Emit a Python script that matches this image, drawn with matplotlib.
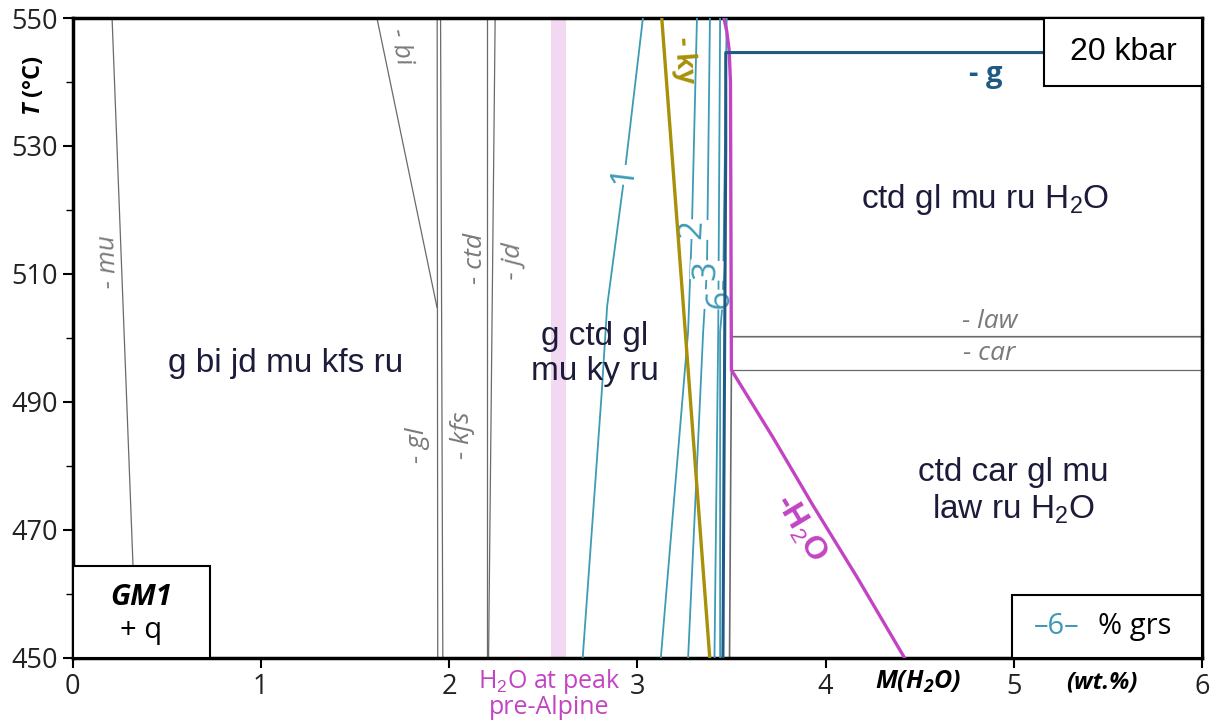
import matplotlib
matplotlib.use("Agg")
import matplotlib.pyplot as plt
from matplotlib.patches import Rectangle

plt.rcParams['font.family'] = ['Open Sans', 'DejaVu Sans']
plt.rcParams['mathtext.fontset'] = 'custom'
plt.rcParams['mathtext.rm'] = 'Liberation Sans'
plt.rcParams['mathtext.it'] = 'Liberation Sans:italic'
plt.rcParams['mathtext.bf'] = 'Open Sans:bold'
plt.rcParams['mathtext.bfit'] = 'Open Sans:italic:bold'

# --- phase boundaries (M(H2O) wt.%, T degC) ---
mu_x = [0.21, 0.34]
mu_t = [550, 450]
bi_x = [1.617, 1.936]
bi_t = [550, 504.8]
gl_x = [1.937, 1.94]
gl_t = [550, 450]
gl2_x = [1.955, 1.967]
gl2_t = [550, 450]
ctd_x = [2.20, 2.20]
ctd_t = [550, 450]
jd_x = [2.245, 2.21]
jd_t = [550, 450]
ky_x = [3.13, 3.385]
ky_t = [550, 450]

# garnet grossular isopleths (% grs)
grs1_x = [3.03, 2.93, 2.84, 2.81, 2.71]
grs1_t = [550, 525, 505, 491, 450]
grs2_x = [3.317, 3.29, 3.27, 3.125]
grs2_t = [550, 517, 501, 450]
grs3_x = [3.386, 3.37, 3.35, 3.27]
grs3_t = [550, 510.6, 501, 450]
grs5_x = [3.44, 3.43, 3.41]
grs5_t = [550, 501, 450]
grs6_x = [3.475, 3.455, 3.44, 3.44]
grs6_t = [550, 506, 501, 450]

g_x = [3.455, 3.47, 3.47, 5.16]
g_t = [450, 530, 544.6, 544.6]
h2o_x = [3.46, 3.475, 3.488, 3.495, 3.50, 3.72, 3.93, 4.17, 4.42]
h2o_t = [550, 548, 545, 540, 495, 484.5, 474, 462.5, 450]
law_x = [3.49, 3.50, 3.50, 6.0]
law_t = [450, 495, 500.2, 500.2]
car_x = [3.50, 6.0]
car_t = [495, 495]

peak_band = (2.54, 2.62)

GRAY = '#6a6a6a'
TEAL = '#3d9bb5'
NAVY = '#1f5a85'
MAG = '#c244c4'
OLIVE = '#a89008'
PINK = '#f2d8f0'
TXT = '#1c1c3a'

fig = plt.figure(figsize=(12.17, 7.26), dpi=100)
ax = fig.add_axes([0.0596, 0.0937, 0.9281, 0.8815])
ax.set_xlim(0, 6)
ax.set_ylim(450, 550)

ax.axvspan(*peak_band, color=PINK, lw=0, zorder=0)

for xs, ts in [(mu_x, mu_t), (bi_x, bi_t), (gl_x, gl_t), (gl2_x, gl2_t),
               (ctd_x, ctd_t), (jd_x, jd_t), (car_x, car_t)]:
    ax.plot(xs, ts, color=GRAY, lw=0.9, zorder=2)
ax.plot(law_x, law_t, color=GRAY, lw=1.2, zorder=2)

for xs, ts in [(grs1_x, grs1_t), (grs2_x, grs2_t), (grs3_x, grs3_t),
               (grs5_x, grs5_t), (grs6_x, grs6_t)]:
    ax.plot(xs, ts, color=TEAL, lw=1.3, zorder=3)

ax.plot(ky_x, ky_t, color=OLIVE, lw=2.4, zorder=4)
ax.plot(h2o_x, h2o_t, color=MAG, lw=2.4, zorder=4)
ax.plot(g_x, g_t, color=NAVY, lw=2.2, zorder=5)

# isopleth labels
lab_bbox = dict(facecolor='white', edgecolor='none', pad=0.2)
for s, x, t, r in [('1', 2.93, 525.5, 83), ('2', 3.295, 517, 87),
                   ('3', 3.37, 510.6, 87), ('6', 3.44, 506, 88)]:
    ax.text(x, t, s, color=TEAL, fontsize=24, rotation=r, ha='center',
            va='center', bbox=lab_bbox, zorder=3.5)

# line labels
it = dict(color='#7a7a7a', fontsize=19, style='italic', ha='center', va='center')
ax.text(0.19, 512, '- mu', rotation=92, **it)
ax.text(1.74, 545.5, '- bi', rotation=-78, **it)
ax.text(2.14, 512.5, '- ctd', rotation=90, **it)
ax.text(2.34, 512, '- jd', rotation=88, **it)
ax.text(1.835, 483.3, '- gl', rotation=90, **it)
ax.text(2.07, 484.8, '- kfs', rotation=90, **it)
ax.text(4.87, 502.6, '- law', **it)
ax.text(4.87, 497.6, '- car', **it)

ax.text(3.25, 543.4, '- ky', color=OLIVE, fontsize=19, fontweight='bold',
        rotation=-86, ha='center', va='center')
ax.text(4.85, 541.2, '- g', color=NAVY, fontsize=21, fontweight='bold',
        ha='center', va='center')
ax.text(3.865, 470.2, '-H$_2$O', color=MAG, fontsize=23, fontweight='bold',
        rotation=-59, ha='center', va='center', family='Liberation Sans')

# field labels
fl = dict(color=TXT, fontsize=24, ha='center', va='center',
          family='Liberation Sans', linespacing=1.2)
ax.text(1.13, 496, 'g bi jd mu kfs ru', **fl)
ax.text(2.775, 497.5, 'g ctd gl\nmu ky ru', **fl)
ax.text(4.85, 521.6, 'ctd gl mu ru H$_2$O', **fl)
ax.text(5.0, 476, 'ctd car gl mu\nlaw ru H$_2$O', **fl)

# boxes
ax.add_patch(Rectangle((5.16, 539.4), 0.84, 10.6, facecolor='white',
                       edgecolor='black', lw=1.5, zorder=7))
ax.text(5.58, 544.7, '20 kbar', fontsize=23, family='Liberation Sans',
        ha='center', va='center', zorder=8)
ax.add_patch(Rectangle((0, 450), 0.73, 14.4, facecolor='white',
                       edgecolor='black', lw=1.5, zorder=7))
ax.text(0.365, 459.4, 'GM1', fontsize=21, fontweight='bold', style='italic',
        ha='center', va='center', zorder=8)
ax.text(0.365, 454.3, '+ q', fontsize=21, ha='center', va='center', zorder=8)
ax.add_patch(Rectangle((4.99, 450), 1.01, 9.8, facecolor='white',
                       edgecolor='black', lw=1.5, zorder=7))
ax.text(5.23, 454.9, '\u20136\u2013', color=TEAL, fontsize=21,
        ha='center', va='center', zorder=8)
ax.text(5.64, 454.9, '% grs', fontsize=21, ha='center', va='center', zorder=8)

# axes styling
for sp in ax.spines.values():
    sp.set_linewidth(2.5)
ax.set_xticks(range(7))
ax.set_yticks(range(450, 551, 20))
ax.set_yticks(range(460, 550, 20), minor=True)
ax.tick_params(axis='both', which='major', labelsize=19.5, width=1.5,
               length=7, direction='out', labelcolor='#222222')
ax.tick_params(axis='y', which='minor', width=1, length=5, direction='out')

ax.text(-0.034, 539.5, '$\\mathbfit{T}$ (\u00b0C)',
        transform=ax.get_yaxis_transform(), rotation=90, fontsize=17,
        fontweight='bold', ha='center', va='center')
ax.text(4.49, 446.2, 'M(H$_\\mathbfit{2}$O)', fontsize=18, fontweight='bold',
        style='italic', ha='center', va='center', clip_on=False)
ax.text(5.47, 446.2, '(wt.%)', fontsize=17, fontweight='bold',
        style='italic', ha='center', va='center', clip_on=False)
ax.text(2.53, 444.5, 'H$_2$O at peak\npre-Alpine', color=MAG, fontsize=18,
        ha='center', va='center', linespacing=0.95, clip_on=False)

fig.savefig('out.png', dpi=100)
